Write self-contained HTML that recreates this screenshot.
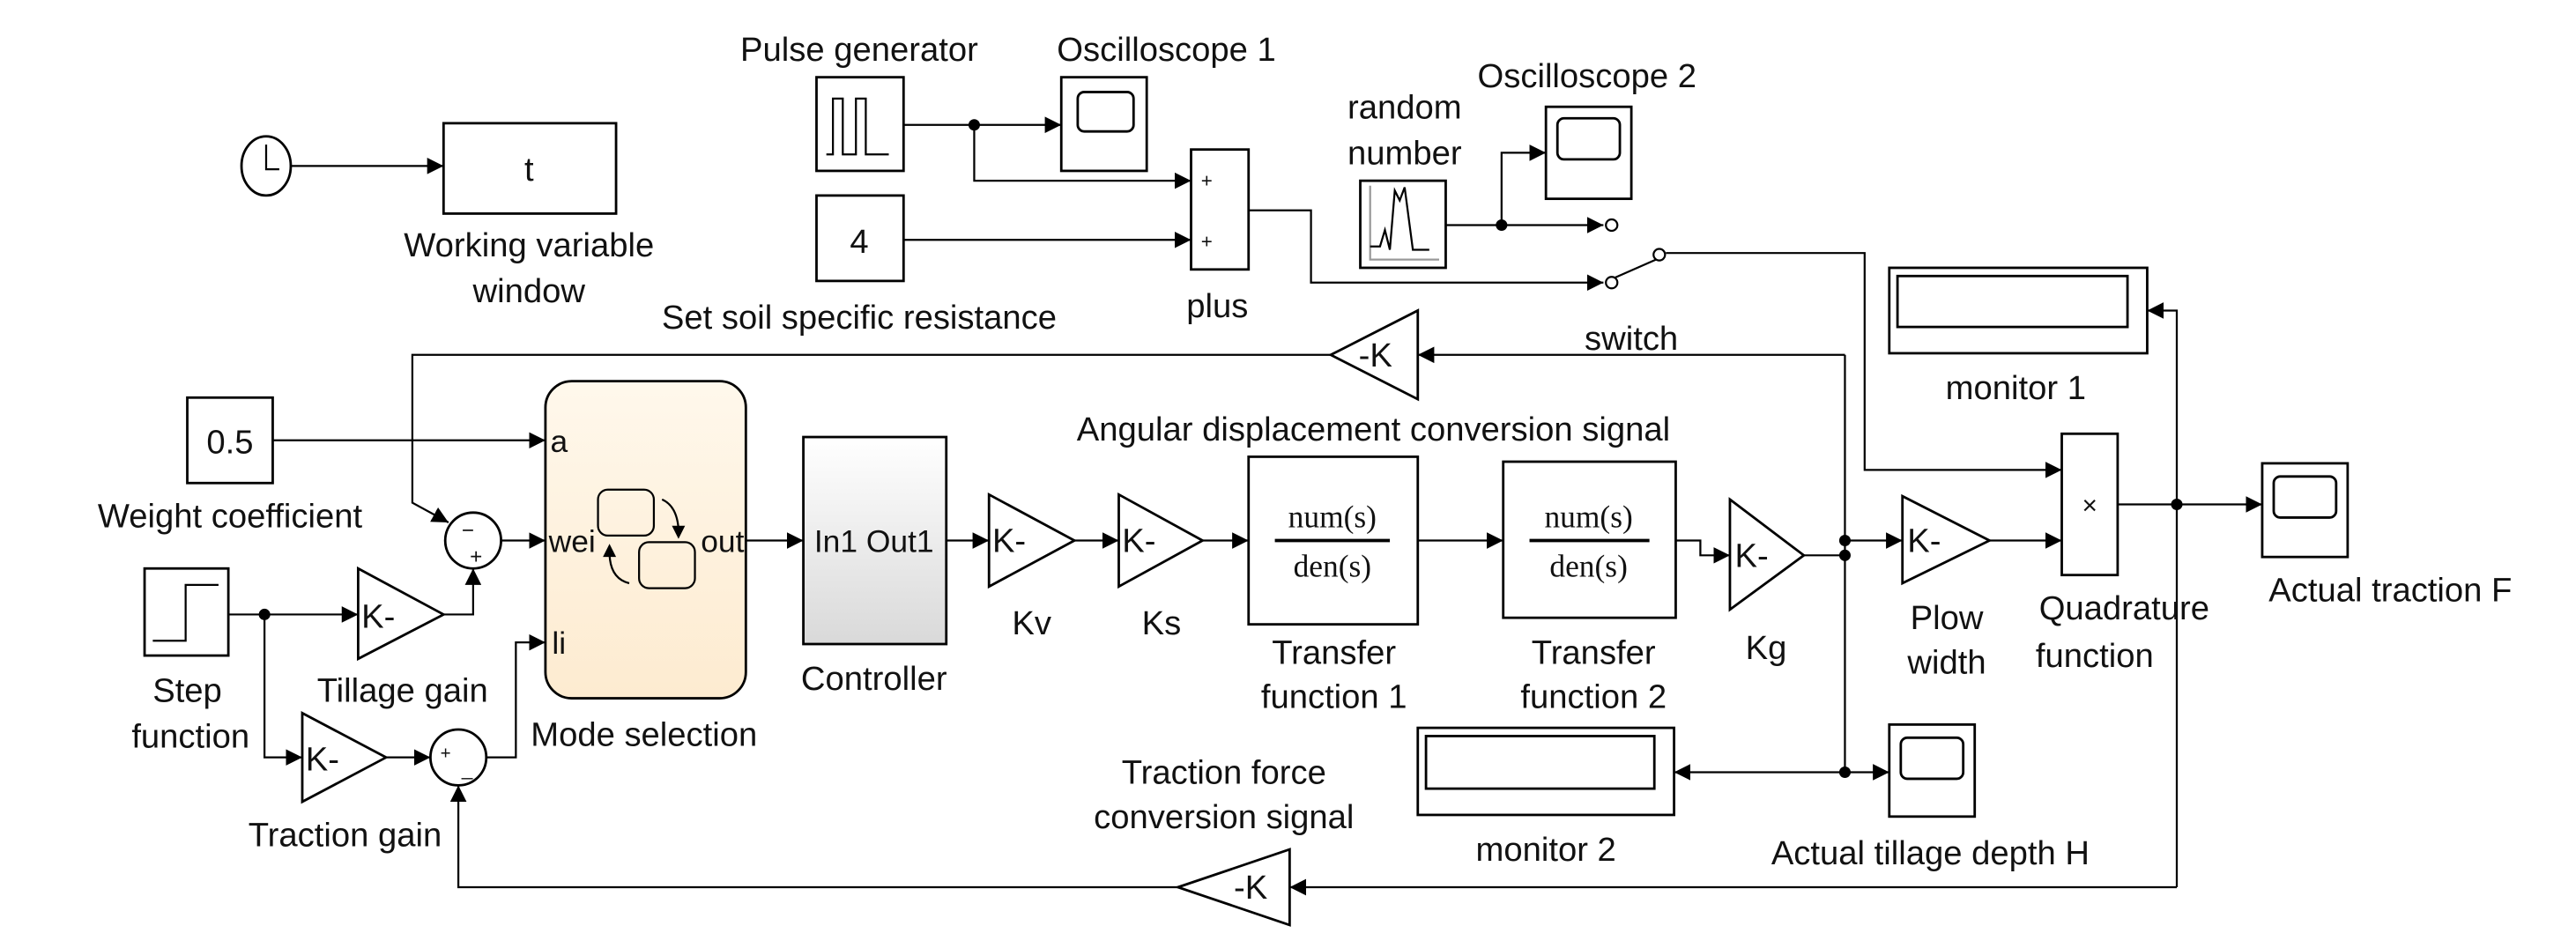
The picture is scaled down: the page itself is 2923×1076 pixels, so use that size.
<!DOCTYPE html>
<html><head><meta charset="utf-8"><style>
html,body{margin:0;padding:0;background:#fff;}
svg{display:block;}
text{font-family:"Liberation Sans",Arial,sans-serif;font-size:20.5px;fill:#111;}
.c{text-anchor:middle;}
.s{font-family:"Liberation Serif",serif;font-size:19px;}
</style></head><body>
<svg width="2923" height="1076" viewBox="0 0 1568 577" preserveAspectRatio="none" xmlns="http://www.w3.org/2000/svg">
<defs>
<marker id="a" markerUnits="userSpaceOnUse" markerWidth="11" markerHeight="10" refX="10" refY="5" orient="auto"><path d="M0 0 L10 5 L0 10 z" fill="#000"/></marker>
<linearGradient id="cg" x1="0" y1="0" x2="0" y2="1"><stop offset="0" stop-color="#fff"/><stop offset="1" stop-color="#d9d9d9"/></linearGradient>
<linearGradient id="mg" x1="0" y1="0" x2="0" y2="1"><stop offset="0" stop-color="#fff8ec"/><stop offset="1" stop-color="#fdebd0"/></linearGradient>
</defs>
<g fill="none" stroke="#000" stroke-width="1.2">
<!-- connectors -->
<path d="M177 101 H270" marker-end="url(#a)"/>
<path d="M550 76 H646" marker-end="url(#a)"/>
<path d="M593 76 V110 H725" marker-end="url(#a)"/>
<path d="M550 146 H725" marker-end="url(#a)"/>
<path d="M760 128 H798 V172 H976" marker-end="url(#a)"/>
<path d="M880 137 H976" marker-end="url(#a)"/>
<path d="M914 137 V93 H941" marker-end="url(#a)"/>
<path d="M1014 154 H1135 V286 H1255" marker-end="url(#a)"/>
<path d="M1123 216 H863" marker-end="url(#a)"/>
<path d="M810 216 H251 V306 L273 318" marker-end="url(#a)"/>
<path d="M1325 540 V189 H1307" marker-end="url(#a)"/>
<path d="M166 268 H332" marker-end="url(#a)"/>
<path d="M305 329 H332" marker-end="url(#a)"/>
<path d="M139 374 H218" marker-end="url(#a)"/>
<path d="M161 374 V461 H184" marker-end="url(#a)"/>
<path d="M270 374 H288 V346" marker-end="url(#a)"/>
<path d="M235 461 H262" marker-end="url(#a)"/>
<path d="M296 461 H314 V391 H332" marker-end="url(#a)"/>
<path d="M1325 540 H785" marker-end="url(#a)"/>
<path d="M717 540 H279 V478" marker-end="url(#a)"/>
<path d="M454 329 H489" marker-end="url(#a)"/>
<path d="M576 329 H602" marker-end="url(#a)"/>
<path d="M654 329 H681" marker-end="url(#a)"/>
<path d="M732 329 H760" marker-end="url(#a)"/>
<path d="M863 329 H915" marker-end="url(#a)"/>
<path d="M1020 329 H1035 V338 H1053" marker-end="url(#a)"/>
<path d="M1098 338 H1123"/>
<path d="M1123 216 V470"/>
<path d="M1123 329 H1158" marker-end="url(#a)"/>
<path d="M1211 329 H1255" marker-end="url(#a)"/>
<path d="M1289 307 H1377" marker-end="url(#a)"/>
<path d="M1123 470 H1019" marker-end="url(#a)"/>
<path d="M1123 470 H1150" marker-end="url(#a)"/>
</g>
<g fill="#000">
<circle cx="593" cy="76" r="3.5"/><circle cx="914" cy="137" r="3.5"/><circle cx="161" cy="374" r="3.5"/>
<circle cx="1123" cy="329" r="3.5"/><circle cx="1123" cy="338" r="3.5"/><circle cx="1123" cy="470" r="3.5"/>
<circle cx="1325" cy="307" r="3.5"/>
</g>
<g fill="#fff" stroke="#000" stroke-width="1.5">
<!-- clock -->
<ellipse cx="162" cy="101" rx="15" ry="18"/>
<rect x="270" y="75" width="105" height="55"/>
<rect x="497" y="47" width="53" height="57"/>
<rect x="646" y="47" width="52" height="57"/>
<rect x="656" y="56" width="34" height="24" rx="4"/>
<rect x="725" y="91" width="35" height="73"/>
<rect x="497" y="119" width="53" height="52"/>
<rect x="828" y="110" width="52" height="53"/>
<rect x="941" y="65" width="52" height="56"/>
<rect x="948" y="72" width="38" height="25" rx="4"/>
<rect x="1150" y="163" width="157" height="52"/>
<rect x="1155" y="168" width="140" height="31"/>
<rect x="114" y="242" width="52" height="52"/>
<rect x="332" y="232" width="122" height="193" rx="16" fill="url(#mg)"/>
<rect x="489" y="266" width="87" height="126" fill="url(#cg)"/>
<rect x="88" y="346" width="51" height="53"/>
<rect x="760" y="278" width="103" height="102"/>
<rect x="915" y="281" width="105" height="95"/>
<rect x="1255" y="264" width="34" height="86"/>
<rect x="1377" y="282" width="52" height="57"/>
<rect x="1384" y="290" width="38" height="25" rx="4"/>
<rect x="863" y="443" width="156" height="53"/>
<rect x="868" y="448" width="139" height="32"/>
<rect x="1150" y="441" width="52" height="56"/>
<rect x="1157" y="449" width="38" height="25" rx="4"/>
<circle cx="288" cy="329" r="17"/>
<circle cx="279" cy="461" r="17"/>
<polygon points="810,216 863,189 863,243"/>
<polygon points="717,540 785,517 785,563"/>
<polygon points="218,346 270,374 218,401"/>
<polygon points="184,434 235,461 184,488"/>
<polygon points="602,301 654,329 602,357"/>
<polygon points="681,301 732,329 681,357"/>
<polygon points="1053,304 1098,338 1053,371"/>
<polygon points="1158,302 1211,329 1158,355"/>
</g>
<g fill="none" stroke="#000" stroke-width="1.2">
<path d="M162 88 V103 H170"/>
<path d="M503 94 H507 V60 H513 V94 H521 V60 H527 V94 H541"/>
<path d="M834 113 V158 H876" stroke="#999"/>
<path d="M834 150 H840 L843 140 L846 152 L849 116 L852 122 L855 114 L860 152 H870"/>
<circle cx="981" cy="172" r="3.5" fill="#fff"/>
<circle cx="981" cy="137" r="3.5" fill="#fff"/>
<circle cx="1010" cy="155" r="3.5" fill="#fff"/>
<path d="M983 169 L1008 158"/>
<rect x="364" y="298" width="34" height="28" rx="6"/>
<rect x="389" y="330" width="34" height="28" rx="6"/>
<path d="M403 304 Q412 308 413 322"/>
<path d="M383 355 Q371 352 371 336"/>
<path d="M776 329 H846 M931 329 H1004" stroke-width="2"/>
<path d="M93 390 H113 V356 H133"/>
</g>
<g fill="#000"><path d="M409 320 L417 320 L413 328 z"/><path d="M367 339 L375 339 L371 331 z"/></g>
<!-- block texts -->
<text class="c" x="322" y="110">t</text>
<text class="c" x="523" y="154">4</text>
<text class="c" x="140" y="276">0.5</text>
<text x="731" y="114" style="font-size:12px">+</text>
<text x="731" y="151" style="font-size:12px">+</text>
<text class="c" x="1272" y="313" style="font-size:16px">×</text>
<text x="281" y="327" style="font-size:13px">−</text>
<text x="286" y="343" style="font-size:13px">+</text>
<text x="268" y="462" style="font-size:11px">+</text>
<text x="281" y="472" style="font-size:12px">_</text>
<text x="335" y="275" style="font-size:19px">a</text>
<text x="334" y="336" style="font-size:19px">wei</text>
<text x="453" y="336" text-anchor="end" style="font-size:19px">out</text>
<text x="336" y="398" style="font-size:19px">li</text>
<text class="c" x="532" y="336" style="font-size:19px">In1 Out1</text>
<text x="604" y="336">K-</text><text x="683" y="336">K-</text>
<text x="1056" y="345">K-</text><text x="1161" y="336">K-</text>
<text x="220" y="382">K-</text><text x="186" y="469">K-</text>
<text x="827" y="223">-K</text><text x="751" y="547">-K</text>
<text class="c s" x="811" y="321">num(s)</text><text class="c s" x="811" y="351">den(s)</text>
<text class="c s" x="967" y="321">num(s)</text><text class="c s" x="967" y="351">den(s)</text>
<!-- labels -->
<text class="c" x="322" y="156">Working variable</text>
<text class="c" x="322" y="184">window</text>
<text class="c" x="523" y="37">Pulse generator</text>
<text class="c" x="710" y="37">Oscilloscope 1</text>
<text class="c" x="523" y="200">Set soil specific resistance</text>
<text class="c" x="741" y="193">plus</text>
<text class="c" x="855" y="72">random</text>
<text class="c" x="855" y="100">number</text>
<text class="c" x="966" y="53">Oscilloscope 2</text>
<text class="c" x="993" y="213">switch</text>
<text class="c" x="1227" y="243">monitor 1</text>
<text class="c" x="836" y="268">Angular displacement conversion signal</text>
<text class="c" x="140" y="321">Weight coefficient</text>
<text class="c" x="114" y="427">Step</text>
<text class="c" x="116" y="455">function</text>
<text class="c" x="245" y="427">Tillage gain</text>
<text class="c" x="210" y="515">Traction gain</text>
<text class="c" x="392" y="454">Mode selection</text>
<text class="c" x="532" y="420">Controller</text>
<text class="c" x="628" y="386">Kv</text>
<text class="c" x="707" y="386">Ks</text>
<text class="c" x="812" y="404">Transfer</text>
<text class="c" x="812" y="431">function 1</text>
<text class="c" x="970" y="404">Transfer</text>
<text class="c" x="970" y="431">function 2</text>
<text class="c" x="1075" y="401">Kg</text>
<text class="c" x="1185" y="383">Plow</text>
<text class="c" x="1185" y="410">width</text>
<text class="c" x="1293" y="377">Quadrature</text>
<text class="c" x="1275" y="406">function</text>
<text class="c" x="1455" y="366">Actual traction F</text>
<text class="c" x="745" y="477">Traction force</text>
<text class="c" x="745" y="504">conversion signal</text>
<text class="c" x="941" y="524">monitor 2</text>
<text class="c" x="1175" y="526">Actual tillage depth H</text>
</svg>
</body></html>
